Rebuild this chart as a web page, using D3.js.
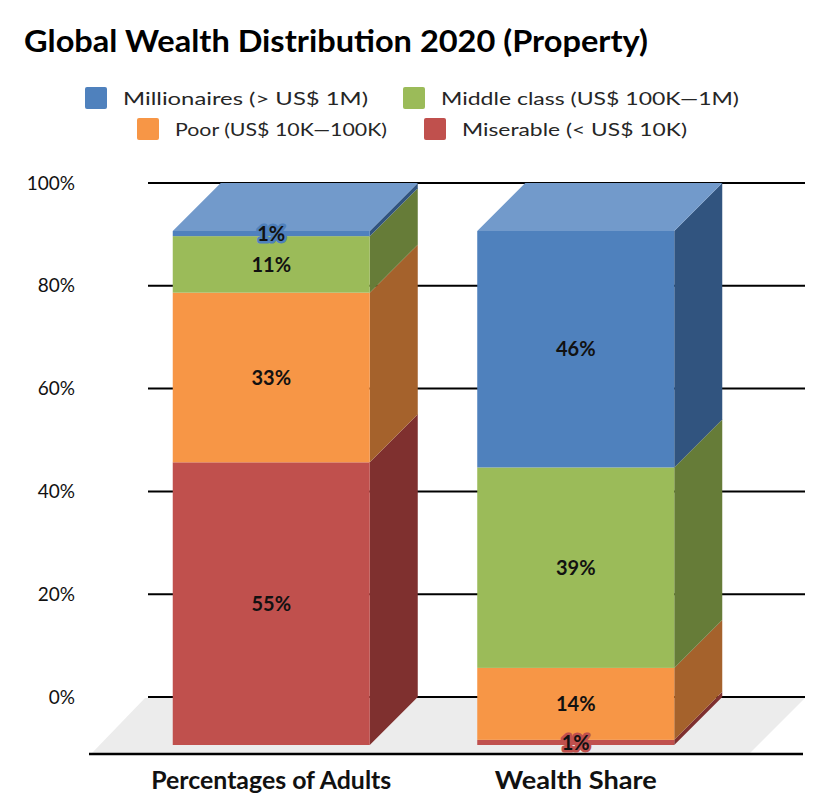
<!DOCTYPE html>
<html>
<head>
<meta charset="utf-8">
<script src="https://cdn.jsdelivr.net/npm/d3@7"></script>
<style>
  body { margin: 0; background: #fff; }
  text { font-family: Lato, "Open Sans", sans-serif; }
</style>
</head>
<body>
<div id="chart"></div>
<script>
const width = 817;
const height = 798;

// data
const categories = ["Percentages of Adults", "Wealth Share"];
const seriesNames = ["Miserable (< US$ 10K)", "Poor (US$ 10K\u2014100K)", "Middle class (US$ 100K\u20141M)", "Millionaires (> US$ 1M)"];
const miserable = [55, 1];
const poor = [33, 14];
const middle = [11, 39];
const millionaires = [1, 46];
const yTicks = [0, 20, 40, 60, 80, 100];
const legendOrder = [3, 2, 1, 0]; // millionaires, middle, poor, miserable

const frontColors = ["#c0504d", "#f79646", "#9bbb59", "#4f81bd"];
const sideColors = ["#7f302f", "#a5622c", "#667c38", "#31547f"];
const topColors = ["#cd7371", "#f9ab6b", "#b0c97e", "#729acb"];

const values = [miserable, poor, middle, millionaires];
const depth = { dx: 48, dy: 48 };

const svg = d3.select("#chart")
  .append("svg")
  .attr("width", width)
  .attr("height", height);

const x = d3.scaleBand()
  .domain(categories)
  .range([119, 728])
  .paddingInner(0.353)
  .paddingOuter(0.1765);

// front face scale; back wall sits depth.dy higher
const y = d3.scaleLinear()
  .domain([0, 100])
  .range([745, 231]);

// title
svg.append("text")
  .attr("x", 24)
  .attr("y", 52)
  .attr("font-size", 30)
  .attr("font-weight", "bold")
  .attr("textLength", 624)
  .attr("lengthAdjust", "spacingAndGlyphs")
  .text("Global Wealth Distribution 2020 (Property)");

// legend
const legendPos = [
  { x: 85, y: 87, w: 245 },
  { x: 403, y: 87, w: 298 },
  { x: 137, y: 118, w: 212 },
  { x: 424, y: 118, w: 225 }
];
legendOrder.forEach((s, i) => {
  const p = legendPos[i];
  svg.append("rect")
    .attr("x", p.x).attr("y", p.y)
    .attr("width", 22).attr("height", 22)
    .attr("rx", 2)
    .attr("fill", frontColors[s]);
  svg.append("text")
    .attr("x", p.x + 38)
    .attr("y", p.y + 18)
    .attr("font-size", 18)
    .attr("fill", "#262626")
    .attr("textLength", p.w)
    .attr("lengthAdjust", "spacingAndGlyphs")
    .text(seriesNames[s]);
});

// floor
svg.append("polygon")
  .attr("points", [[92, 753], [750, 753], [805, 698], [145, 698]].map(d => d.join(",")).join(" "))
  .attr("fill", "#ececec");

// back wall gridlines
svg.append("g")
  .selectAll("line")
  .data(yTicks)
  .join("line")
  .attr("x1", 148)
  .attr("x2", 805)
  .attr("y1", d => y(d) - depth.dy)
  .attr("y2", d => y(d) - depth.dy)
  .attr("stroke", "#000")
  .attr("stroke-width", 2);

// front base line
svg.append("line")
  .attr("x1", 89).attr("x2", 803)
  .attr("y1", 754).attr("y2", 754)
  .attr("stroke", "#000")
  .attr("stroke-width", 2.5);

// y labels
svg.append("g")
  .selectAll("text")
  .data(yTicks)
  .join("text")
  .attr("x", 75)
  .attr("y", d => y(d) - depth.dy)
  .attr("dy", "0.35em")
  .attr("text-anchor", "end")
  .attr("font-size", 19)
  .attr("fill", "#111")
  .text(d => d + "%");

// bars
const bars = svg.append("g");
const labels = [];
categories.forEach((cat, ci) => {
  const x0 = x(cat);
  const x1 = x0 + x.bandwidth();
  let acc = 0;
  values.forEach((vals, si) => {
    const v = vals[ci];
    const yb = y(acc);
    const yt = y(acc + v);
    acc += v;
    // side face
    bars.append("polygon")
      .attr("points", [[x1, yb], [x1 + depth.dx, yb - depth.dy], [x1 + depth.dx, yt - depth.dy], [x1, yt]].map(d => d.join(",")).join(" "))
      .attr("fill", sideColors[si]);
    // front face
    bars.append("rect")
      .attr("x", x0)
      .attr("y", yt)
      .attr("width", x.bandwidth())
      .attr("height", yb - yt)
      .attr("fill", frontColors[si]);
    // top face for the last segment
    if (si === values.length - 1) {
      bars.append("polygon")
        .attr("points", [[x0, yt], [x1, yt], [x1 + depth.dx, yt - depth.dy], [x0 + depth.dx, yt - depth.dy]].map(d => d.join(",")).join(" "))
        .attr("fill", topColors[si]);
    }
    labels.push({ x: (x0 + x1) / 2, y: (yb + yt) / 2, v: v, si: si, small: v < 5 });
  });
});

// value labels
svg.append("g")
  .selectAll("text")
  .data(labels)
  .join("text")
  .attr("x", d => d.x)
  .attr("y", d => d.y)
  .attr("dy", "0.36em")
  .attr("text-anchor", "middle")
  .attr("font-size", 20)
  .attr("font-weight", "bold")
  .attr("fill", "#111")
  .attr("stroke", d => d.small ? frontColors[d.si] : "none")
  .attr("stroke-width", d => d.small ? 5 : 0)
  .attr("stroke-linejoin", "round")
  .attr("paint-order", "stroke")
  .text(d => d.v + "%");

// category labels
const catWidths = [240, 162];
svg.append("g")
  .selectAll("text")
  .data(categories)
  .join("text")
  .attr("x", d => x(d) + x.bandwidth() / 2)
  .attr("y", 789)
  .attr("text-anchor", "middle")
  .attr("font-size", 24)
  .attr("font-weight", "bold")
  .attr("fill", "#111")
  .attr("textLength", (d, i) => catWidths[i])
  .attr("lengthAdjust", "spacingAndGlyphs")
  .text(d => d);
</script>
</body>
</html>
